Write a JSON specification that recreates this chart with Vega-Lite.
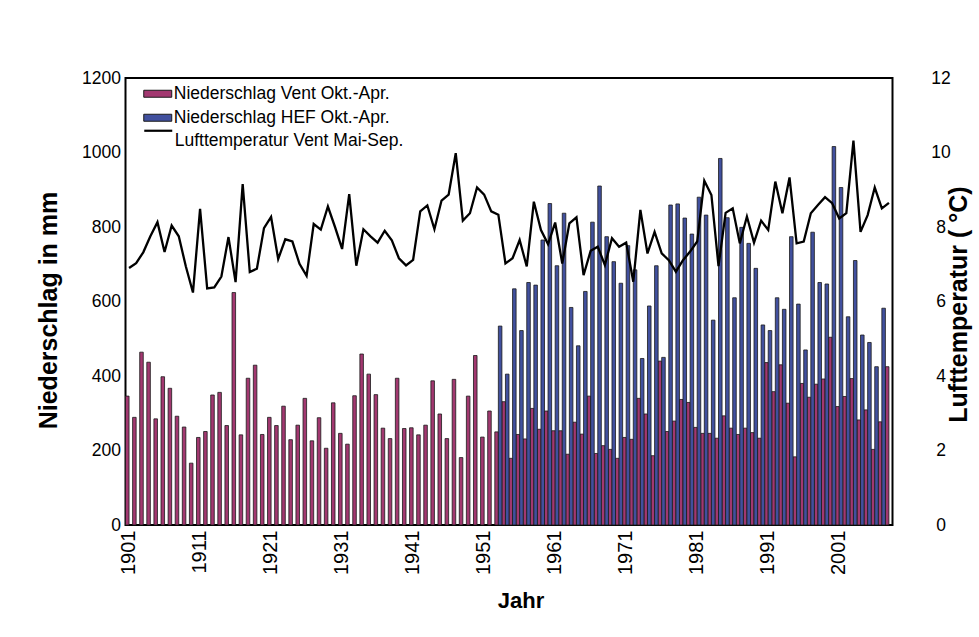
{
  "$schema": "https://vega.github.io/schema/vega-lite/v6.json",
  "width": 767,
  "height": 447,
  "autosize": {"type": "none"},
  "padding": {"left": 125.5, "top": 78, "right": 86.5, "bottom": 112},
  "background": "white",
  "config": {
    "font": "Liberation Sans",
    "view": {"stroke": "#000", "strokeWidth": 2},
    "axis": {"grid": false, "domain": false, "ticks": false, "labelColor": "#000", "titleColor": "#000", "labelFont": "Liberation Sans", "titleFont": "Liberation Sans"}
  },
  "datasets": {
    "precip": [
      {"year":1901,"station":"Vent","mm":346},{"year":1902,"station":"Vent","mm":289},{"year":1903,"station":"Vent","mm":464},{"year":1904,"station":"Vent","mm":437},{"year":1905,"station":"Vent","mm":285},{"year":1906,"station":"Vent","mm":398},{"year":1907,"station":"Vent","mm":367},{"year":1908,"station":"Vent","mm":292},{"year":1909,"station":"Vent","mm":263},{"year":1910,"station":"Vent","mm":166},
      {"year":1911,"station":"Vent","mm":235},{"year":1912,"station":"Vent","mm":251},{"year":1913,"station":"Vent","mm":349},{"year":1914,"station":"Vent","mm":356},{"year":1915,"station":"Vent","mm":267},{"year":1916,"station":"Vent","mm":624},{"year":1917,"station":"Vent","mm":242},{"year":1918,"station":"Vent","mm":394},{"year":1919,"station":"Vent","mm":429},{"year":1920,"station":"Vent","mm":243},
      {"year":1921,"station":"Vent","mm":289},{"year":1922,"station":"Vent","mm":267},{"year":1923,"station":"Vent","mm":319},{"year":1924,"station":"Vent","mm":229},{"year":1925,"station":"Vent","mm":268},{"year":1926,"station":"Vent","mm":340},{"year":1927,"station":"Vent","mm":226},{"year":1928,"station":"Vent","mm":288},{"year":1929,"station":"Vent","mm":206},{"year":1930,"station":"Vent","mm":328},
      {"year":1931,"station":"Vent","mm":246},{"year":1932,"station":"Vent","mm":217},{"year":1933,"station":"Vent","mm":347},{"year":1934,"station":"Vent","mm":459},{"year":1935,"station":"Vent","mm":405},{"year":1936,"station":"Vent","mm":350},{"year":1937,"station":"Vent","mm":260},{"year":1938,"station":"Vent","mm":232},{"year":1939,"station":"Vent","mm":394},{"year":1940,"station":"Vent","mm":259},
      {"year":1941,"station":"Vent","mm":261},{"year":1942,"station":"Vent","mm":242},{"year":1943,"station":"Vent","mm":268},{"year":1944,"station":"Vent","mm":387},{"year":1945,"station":"Vent","mm":298},{"year":1946,"station":"Vent","mm":232},{"year":1947,"station":"Vent","mm":391},{"year":1948,"station":"Vent","mm":181},{"year":1949,"station":"Vent","mm":346},{"year":1950,"station":"Vent","mm":455},
      {"year":1951,"station":"Vent","mm":236},{"year":1952,"station":"Vent","mm":306},{"year":1953,"station":"Vent","mm":250},{"year":1954,"station":"Vent","mm":331},{"year":1955,"station":"Vent","mm":179},{"year":1956,"station":"Vent","mm":243},{"year":1957,"station":"Vent","mm":231},{"year":1958,"station":"Vent","mm":313},{"year":1959,"station":"Vent","mm":257},{"year":1960,"station":"Vent","mm":306},
      {"year":1961,"station":"Vent","mm":253},{"year":1962,"station":"Vent","mm":253},{"year":1963,"station":"Vent","mm":190},{"year":1964,"station":"Vent","mm":276},{"year":1965,"station":"Vent","mm":244},{"year":1966,"station":"Vent","mm":346},{"year":1967,"station":"Vent","mm":192},{"year":1968,"station":"Vent","mm":213},{"year":1969,"station":"Vent","mm":203},{"year":1970,"station":"Vent","mm":179},
      {"year":1971,"station":"Vent","mm":235},{"year":1972,"station":"Vent","mm":230},{"year":1973,"station":"Vent","mm":340},{"year":1974,"station":"Vent","mm":298},{"year":1975,"station":"Vent","mm":186},{"year":1976,"station":"Vent","mm":440},{"year":1977,"station":"Vent","mm":251},{"year":1978,"station":"Vent","mm":279},{"year":1979,"station":"Vent","mm":337},{"year":1980,"station":"Vent","mm":329},
      {"year":1981,"station":"Vent","mm":262},{"year":1982,"station":"Vent","mm":246},{"year":1983,"station":"Vent","mm":246},{"year":1984,"station":"Vent","mm":233},{"year":1985,"station":"Vent","mm":293},{"year":1986,"station":"Vent","mm":260},{"year":1987,"station":"Vent","mm":243},{"year":1988,"station":"Vent","mm":260},{"year":1989,"station":"Vent","mm":248},{"year":1990,"station":"Vent","mm":233},
      {"year":1991,"station":"Vent","mm":436},{"year":1992,"station":"Vent","mm":358},{"year":1993,"station":"Vent","mm":430},{"year":1994,"station":"Vent","mm":327},{"year":1995,"station":"Vent","mm":183},{"year":1996,"station":"Vent","mm":380},{"year":1997,"station":"Vent","mm":343},{"year":1998,"station":"Vent","mm":378},{"year":1999,"station":"Vent","mm":392},{"year":2000,"station":"Vent","mm":504},
      {"year":2001,"station":"Vent","mm":318},{"year":2002,"station":"Vent","mm":345},{"year":2003,"station":"Vent","mm":393},{"year":2004,"station":"Vent","mm":282},{"year":2005,"station":"Vent","mm":309},{"year":2006,"station":"Vent","mm":203},{"year":2007,"station":"Vent","mm":277},{"year":2008,"station":"Vent","mm":425},
      {"year":1953,"station":"HEF","mm":534},{"year":1954,"station":"HEF","mm":405},{"year":1955,"station":"HEF","mm":634},{"year":1956,"station":"HEF","mm":522},{"year":1957,"station":"HEF","mm":651},{"year":1958,"station":"HEF","mm":644},{"year":1959,"station":"HEF","mm":765},{"year":1960,"station":"HEF","mm":863},
      {"year":1961,"station":"HEF","mm":696},{"year":1962,"station":"HEF","mm":837},{"year":1963,"station":"HEF","mm":584},{"year":1964,"station":"HEF","mm":481},{"year":1965,"station":"HEF","mm":627},{"year":1966,"station":"HEF","mm":813},{"year":1967,"station":"HEF","mm":910},{"year":1968,"station":"HEF","mm":774},{"year":1969,"station":"HEF","mm":707},{"year":1970,"station":"HEF","mm":649},
      {"year":1971,"station":"HEF","mm":750},{"year":1972,"station":"HEF","mm":685},{"year":1973,"station":"HEF","mm":447},{"year":1974,"station":"HEF","mm":588},{"year":1975,"station":"HEF","mm":696},{"year":1976,"station":"HEF","mm":450},{"year":1977,"station":"HEF","mm":859},{"year":1978,"station":"HEF","mm":862},{"year":1979,"station":"HEF","mm":824},{"year":1980,"station":"HEF","mm":781},
      {"year":1981,"station":"HEF","mm":880},{"year":1982,"station":"HEF","mm":832},{"year":1983,"station":"HEF","mm":550},{"year":1984,"station":"HEF","mm":984},{"year":1985,"station":"HEF","mm":825},{"year":1986,"station":"HEF","mm":610},{"year":1987,"station":"HEF","mm":799},{"year":1988,"station":"HEF","mm":756},{"year":1989,"station":"HEF","mm":689},{"year":1990,"station":"HEF","mm":537},
      {"year":1991,"station":"HEF","mm":522},{"year":1992,"station":"HEF","mm":610},{"year":1993,"station":"HEF","mm":579},{"year":1994,"station":"HEF","mm":774},{"year":1995,"station":"HEF","mm":593},{"year":1996,"station":"HEF","mm":470},{"year":1997,"station":"HEF","mm":786},{"year":1998,"station":"HEF","mm":651},{"year":1999,"station":"HEF","mm":647},{"year":2000,"station":"HEF","mm":1016},
      {"year":2001,"station":"HEF","mm":906},{"year":2002,"station":"HEF","mm":559},{"year":2003,"station":"HEF","mm":710},{"year":2004,"station":"HEF","mm":510},{"year":2005,"station":"HEF","mm":490},{"year":2006,"station":"HEF","mm":425},{"year":2007,"station":"HEF","mm":582}
    ],
    "temp": [
      {"year":1901,"t":6.90},{"year":1902,"t":7.03},{"year":1903,"t":7.32},{"year":1904,"t":7.75},{"year":1905,"t":8.13},{"year":1906,"t":7.33},{"year":1907,"t":8.04},{"year":1908,"t":7.75},{"year":1909,"t":6.94},{"year":1910,"t":6.24},
      {"year":1911,"t":8.49},{"year":1912,"t":6.35},{"year":1913,"t":6.38},{"year":1914,"t":6.67},{"year":1915,"t":7.73},{"year":1916,"t":6.52},{"year":1917,"t":9.15},{"year":1918,"t":6.79},{"year":1919,"t":6.88},{"year":1920,"t":7.97},
      {"year":1921,"t":8.27},{"year":1922,"t":7.14},{"year":1923,"t":7.67},{"year":1924,"t":7.61},{"year":1925,"t":7.01},{"year":1926,"t":6.69},{"year":1927,"t":8.08},{"year":1928,"t":7.93},{"year":1929,"t":8.55},{"year":1930,"t":8.00},
      {"year":1931,"t":7.41},{"year":1932,"t":8.88},{"year":1933,"t":6.96},{"year":1934,"t":7.94},{"year":1935,"t":7.75},{"year":1936,"t":7.58},{"year":1937,"t":7.90},{"year":1938,"t":7.64},{"year":1939,"t":7.16},{"year":1940,"t":6.97},
      {"year":1941,"t":7.12},{"year":1942,"t":8.42},{"year":1943,"t":8.58},{"year":1944,"t":7.94},{"year":1945,"t":8.71},{"year":1946,"t":8.87},{"year":1947,"t":9.98},{"year":1948,"t":8.17},{"year":1949,"t":8.37},{"year":1950,"t":9.06},
      {"year":1951,"t":8.87},{"year":1952,"t":8.42},{"year":1953,"t":8.33},{"year":1954,"t":7.02},{"year":1955,"t":7.16},{"year":1956,"t":7.65},{"year":1957,"t":6.94},{"year":1958,"t":8.68},{"year":1959,"t":7.92},{"year":1960,"t":7.54},
      {"year":1961,"t":8.12},{"year":1962,"t":7.02},{"year":1963,"t":8.10},{"year":1964,"t":8.26},{"year":1965,"t":6.71},{"year":1966,"t":7.36},{"year":1967,"t":7.47},{"year":1968,"t":6.98},{"year":1969,"t":7.70},{"year":1970,"t":7.47},
      {"year":1971,"t":7.58},{"year":1972,"t":6.53},{"year":1973,"t":8.46},{"year":1974,"t":7.29},{"year":1975,"t":7.87},{"year":1976,"t":7.29},{"year":1977,"t":7.11},{"year":1978,"t":6.80},{"year":1979,"t":7.11},{"year":1980,"t":7.34},
      {"year":1981,"t":7.61},{"year":1982,"t":9.24},{"year":1983,"t":8.86},{"year":1984,"t":6.95},{"year":1985,"t":8.38},{"year":1986,"t":8.50},{"year":1987,"t":7.56},{"year":1988,"t":8.28},{"year":1989,"t":7.58},{"year":1990,"t":8.17},
      {"year":1991,"t":7.92},{"year":1992,"t":9.22},{"year":1993,"t":8.37},{"year":1994,"t":9.33},{"year":1995,"t":7.56},{"year":1996,"t":7.61},{"year":1997,"t":8.37},{"year":1998,"t":8.59},{"year":1999,"t":8.80},{"year":2000,"t":8.64},
      {"year":2001,"t":8.23},{"year":2002,"t":8.37},{"year":2003,"t":10.32},{"year":2004,"t":7.87},{"year":2005,"t":8.32},{"year":2006,"t":9.06},{"year":2007,"t":8.50},{"year":2008,"t":8.65}
    ]
  },
  "layer": [
    {
      "data": {"name": "precip"},
      "mark": {"type": "bar", "stroke": "#1b1b1b", "strokeWidth": 0.8, "opacity": 1},
      "encoding": {
        "x": {
          "field": "year", "type": "ordinal",
          "scale": {"paddingInner": 0, "paddingOuter": 0},
          "axis": {
            "values": [1901,1911,1921,1931,1941,1951,1961,1971,1981,1991,2001],
            "labelAngle": -90, "labelFontSize": 20, "labelPadding": 5,
            "title": "Jahr", "titleFontSize": 22, "titleFontWeight": "bold",
            "titleX": 395, "titleY": 75, "titleBaseline": "middle", "titleAlign": "center"
          }
        },
        "xOffset": {"field": "station", "type": "nominal", "scale": {"domain": ["Vent", "HEF"], "paddingInner": 0, "paddingOuter": 0}},
        "y": {
          "field": "mm", "type": "quantitative",
          "scale": {"domain": [0, 1200]},
          "axis": {
            "values": [0,200,400,600,800,1000,1200], "format": "d",
            "labelFontSize": 17.5, "labelPadding": 5,
            "title": "Niederschlag in mm", "titleFontSize": 25, "titleFontWeight": "bold",
            "titleAngle": -90, "titleX": -77, "titleY": 232, "titleBaseline": "middle", "titleAlign": "center"
          }
        },
        "fill": {
          "field": "station", "type": "nominal",
          "scale": {"domain": ["Vent", "HEF"], "range": ["#a23870", "#41509e"]},
          "legend": {
            "title": null, "orient": "none", "legendX": 22.75, "legendY": 6.25, "padding": 0,
            "symbolType": "M-1.6,-0.4H1.6V0.4H-1.6Z", "symbolSize": 306,
            "symbolStrokeColor": "#1b1b1b", "symbolStrokeWidth": 1, "symbolOpacity": 1,
            "labelFontSize": 17.5, "labelColor": "#000", "labelOffset": 6.5, "labelLimit": 400, "rowPadding": 6,
            "labelExpr": "datum.label == 'Vent' ? 'Niederschlag Vent Okt.-Apr.' : 'Niederschlag HEF Okt.-Apr.'"
          }
        }
      }
    },
    {
      "data": {"name": "temp"},
      "mark": {"type": "line", "strokeWidth": 2.3},
      "encoding": {
        "x": {"field": "year", "type": "ordinal"},
        "y": {
          "field": "t", "type": "quantitative",
          "scale": {"domain": [0, 12]},
          "axis": {
            "orient": "right", "values": [0,2,4,6,8,10,12],
            "labelFontSize": 17.5, "labelPadding": 48, "labelAlign": "center",
            "title": "Lufttemperatur ( °C)", "titleFontSize": 25, "titleFontWeight": "bold",
            "titleAngle": -90, "titleX": 66, "titleY": 226, "titleBaseline": "middle", "titleAlign": "center"
          }
        },
        "stroke": {
          "datum": "Lufttemperatur Vent Mai-Sep.", "type": "nominal",
          "scale": {"range": ["#000"]},
          "legend": {
            "title": null, "orient": "none", "legendX": 22.75, "legendY": 53.25, "padding": 0,
            "symbolType": "M-1.6,-1.2L1.6,-1.2", "symbolSize": 306, "symbolStrokeWidth": 2.2,
            "labelFontSize": 17.5, "labelColor": "#000", "labelOffset": 6.5, "labelLimit": 400
          }
        }
      }
    }
  ],
  "resolve": {"scale": {"y": "independent"}}
}
